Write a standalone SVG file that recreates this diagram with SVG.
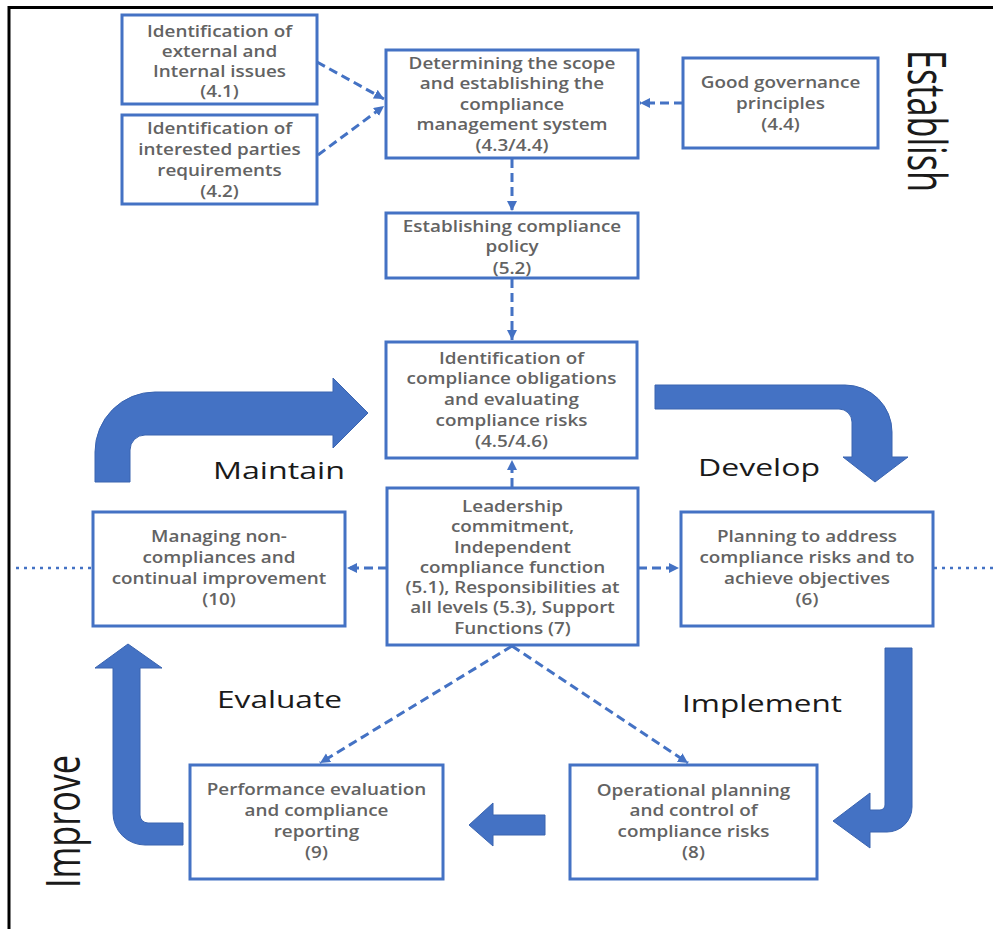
<svg xmlns="http://www.w3.org/2000/svg" width="993" height="929" viewBox="0 0 993 929">
<defs>
<style>
.box{fill:#fff;stroke:#4472C4;stroke-width:3}
.t{font-family:"Open Sans","Liberation Sans",sans-serif;font-size:16px;fill:#636363;text-anchor:middle;font-weight:600}
.big{font-family:"Open Sans","Liberation Sans",sans-serif;font-size:24px;fill:#1a1a1a}
.vert{font-family:"Open Sans","Liberation Sans",sans-serif;font-size:34px;fill:#1a1a1a}
.dash{fill:none;stroke:#4472C4;stroke-width:3;stroke-dasharray:9 5;marker-end:url(#ah)}
.dot{fill:none;stroke:#4472C4;stroke-width:2.5;stroke-dasharray:3 5}
.fat{fill:#4472C4;stroke:#3A64B0;stroke-width:1}
</style>
<marker id="ah" markerUnits="userSpaceOnUse" markerWidth="12" markerHeight="11" refX="10" refY="5" orient="auto">
<path d="M0,0 L10,5 L0,10 z" fill="#4472C4"/>
</marker>
</defs>
<rect width="993" height="929" fill="#fff"/>
<path d="M9,929 L9,7.5 L993,7.5" fill="none" stroke="#000" stroke-width="3"/>

<g id="connectors">
<path class="dash" d="M317,62 L384,99"/>
<path class="dash" d="M318,155 L384,106"/>
<path class="dash" d="M683,103 L640,103"/>
<path class="dash" d="M512,159 L512,211"/>
<path class="dash" d="M512,279 L512,340"/>
<path class="dash" d="M512,487 L512,460"/>
<path class="dash" d="M387,568 L347,568"/>
<path class="dash" d="M638,568 L679,568"/>
<path class="dash" d="M512,646 L320,763"/>
<path class="dash" d="M512,646 L688,763"/>
<path class="dot" d="M16,568 L93,568"/>
<path class="dot" d="M934,568 L993,568"/>
</g>

<g id="bigarrows">
<path class="fat" d="M95,482 L95,452 A60,60 0 0 1 155,392 L333,392 L333,378 L368,413 L333,448 L333,435 L145,435 A15,15 0 0 0 130,450 L130,482 Z"/>
<path class="fat" d="M655,385 L845,385 A47,47 0 0 1 892,432 L892,457 L908,457 L875,482 L843,457 L852,457 L852,422 A13,13 0 0 0 839,409 L655,409 Z"/>
<path class="fat" d="M885,648 L912,648 L912,807 A25,25 0 0 1 887,832 L870,832 L870,848 L833,821 L870,793 L870,810 L880,810 A5,5 0 0 0 885,805 Z"/>
<path class="fat" d="M545,815 L493,815 L493,803 L469,825 L493,846 L493,835 L545,835 Z"/>
<path class="fat" d="M183,823 L148,823 A8,8 0 0 1 140,815 L140,668 L162,668 L128,644 L95,668 L113,668 L113,813 A32,32 0 0 0 145,845 L183,845 Z"/>
</g>

<g id="n41">
<rect class="box" x="122" y="15" width="195" height="89"/>
<text class="t" transform="matrix(1.18 0 0 1 219.5 0)"><tspan x="0" y="37">Identification of</tspan><tspan x="0" y="57">external and</tspan><tspan x="0" y="77">Internal issues</tspan><tspan x="0" y="97">(4.1)</tspan></text>
</g>
<g id="n42">
<rect class="box" x="122" y="115" width="195" height="89"/>
<text class="t" transform="matrix(1.18 0 0 1 219.5 0)"><tspan x="0" y="134">Identification of</tspan><tspan x="0" y="155">interested parties</tspan><tspan x="0" y="176">requirements</tspan><tspan x="0" y="197">(4.2)</tspan></text>
</g>
<g id="n43">
<rect class="box" x="386" y="50" width="252" height="108"/>
<text class="t" transform="matrix(1.18 0 0 1 512 0)"><tspan x="0" y="69">Determining the scope</tspan><tspan x="0" y="89">and establishing the</tspan><tspan x="0" y="110">compliance</tspan><tspan x="0" y="130">management system</tspan><tspan x="0" y="151">(4.3/4.4)</tspan></text>
</g>
<g id="n44">
<rect class="box" x="683" y="58" width="195" height="90"/>
<text class="t" transform="matrix(1.18 0 0 1 780.5 0)"><tspan x="0" y="88">Good governance</tspan><tspan x="0" y="109">principles</tspan><tspan x="0" y="130">(4.4)</tspan></text>
</g>
<g id="n52">
<rect class="box" x="386" y="213" width="252" height="65"/>
<text class="t" transform="matrix(1.18 0 0 1 512 0)"><tspan x="0" y="232">Establishing compliance</tspan><tspan x="0" y="252">policy</tspan><tspan x="0" y="274">(5.2)</tspan></text>
</g>
<g id="n45">
<rect class="box" x="386" y="342" width="251" height="116"/>
<text class="t" transform="matrix(1.18 0 0 1 511.5 0)"><tspan x="0" y="364">Identification of</tspan><tspan x="0" y="384">compliance obligations</tspan><tspan x="0" y="405">and evaluating</tspan><tspan x="0" y="426">compliance risks</tspan><tspan x="0" y="447">(4.5/4.6)</tspan></text>
</g>
<g id="n5">
<rect class="box" x="387" y="488" width="251" height="157"/>
<text class="t" transform="matrix(1.18 0 0 1 512.5 0)"><tspan x="0" y="512">Leadership</tspan><tspan x="0" y="532">commitment,</tspan><tspan x="0" y="553">Independent</tspan><tspan x="0" y="573">compliance function</tspan><tspan x="0" y="593">(5.1), Responsibilities at</tspan><tspan x="0" y="613">all levels (5.3), Support</tspan><tspan x="0" y="634">Functions (7)</tspan></text>
</g>
<g id="n10">
<rect class="box" x="93" y="512" width="252" height="114"/>
<text class="t" transform="matrix(1.18 0 0 1 219 0)"><tspan x="0" y="542">Managing non-</tspan><tspan x="0" y="563">compliances and</tspan><tspan x="0" y="584">continual improvement</tspan><tspan x="0" y="605">(10)</tspan></text>
</g>
<g id="n6">
<rect class="box" x="681" y="512" width="252" height="114"/>
<text class="t" transform="matrix(1.18 0 0 1 807 0)"><tspan x="0" y="542">Planning to address</tspan><tspan x="0" y="563">compliance risks and to</tspan><tspan x="0" y="584">achieve objectives</tspan><tspan x="0" y="605">(6)</tspan></text>
</g>
<g id="n9">
<rect class="box" x="190" y="765" width="253" height="114"/>
<text class="t" transform="matrix(1.18 0 0 1 316.5 0)"><tspan x="0" y="795">Performance evaluation</tspan><tspan x="0" y="816">and compliance</tspan><tspan x="0" y="837">reporting</tspan><tspan x="0" y="858">(9)</tspan></text>
</g>
<g id="n8">
<rect class="box" x="570" y="765" width="247" height="114"/>
<text class="t" transform="matrix(1.18 0 0 1 693.5 0)"><tspan x="0" y="796">Operational planning</tspan><tspan x="0" y="816">and control of</tspan><tspan x="0" y="837">compliance risks</tspan><tspan x="0" y="858">(8)</tspan></text>
</g>

<g id="labels">
<text class="big" x="213" y="479" textLength="132" lengthAdjust="spacingAndGlyphs">Maintain</text>
<text class="big" x="698" y="476" textLength="122" lengthAdjust="spacingAndGlyphs">Develop</text>
<text class="big" x="217" y="708" textLength="125" lengthAdjust="spacingAndGlyphs">Evaluate</text>
<text class="big" x="682" y="712" textLength="160" lengthAdjust="spacingAndGlyphs">Implement</text>
<text class="vert" transform="translate(908,50) rotate(90) scale(1,1.55)" x="0" y="0" textLength="142" lengthAdjust="spacingAndGlyphs">Establish</text>
<text class="vert" transform="translate(80,888) rotate(-90) scale(1,1.38)" x="0" y="0" textLength="133" lengthAdjust="spacingAndGlyphs">Improve</text>
</g>
</svg>
